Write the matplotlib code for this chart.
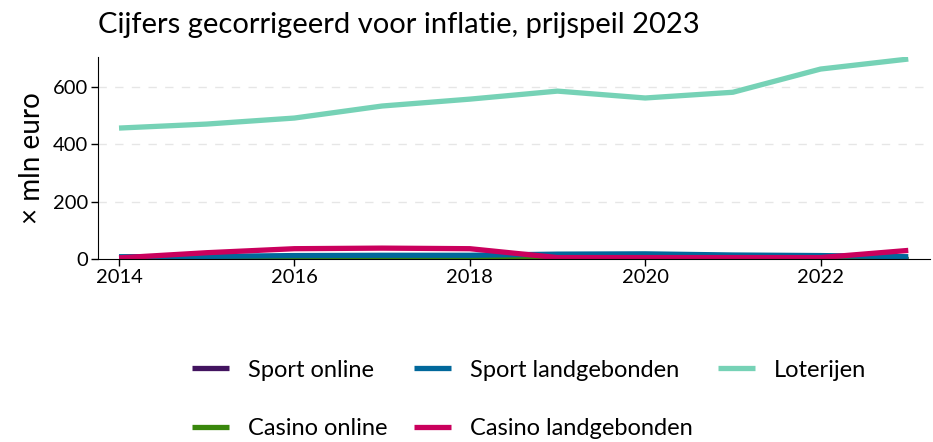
import matplotlib
matplotlib.use("Agg")
import matplotlib.pyplot as plt

years = [2014, 2015, 2016, 2017, 2018, 2019, 2020, 2021, 2022, 2023]
sport_online = [0, 0, 0, 0, 0, 0, 0, 0, 0, 0]
casino_online = [0, 0, 0, 0, 0, 0, 0, 0, 0, 0]
sport_land = [8, 9, 12, 13, 13, 17, 18, 14, 12, 8]
casino_land = [4, 22, 36, 38, 36, 5, 5, 5, 5, 30]
loterijen = [457, 471, 492, 534, 558, 586, 562, 582, 663, 698]

names = ["Sport online", "Casino online", "Sport landgebonden",
         "Casino landgebonden", "Loterijen"]
colors = ["#42145f", "#39870c", "#01689b", "#ca005d", "#76d2b6"]
series = [sport_online, casino_online, sport_land, casino_land, loterijen]

plt.rcParams["font.family"] = ["Lato", "DejaVu Sans"]

fig = plt.figure(figsize=(9.33, 4.42), dpi=100)
ax = fig.add_axes([0.105, 0.414, 0.892, 0.457])

for vals, c, n in zip(series, colors, names):
    ax.plot(years, vals, color=c, lw=3.8, label=n, solid_capstyle="butt")

ax.set_xlim(2013.76, 2023.25)
ax.set_ylim(0, 705)
ax.set_yticks([0, 200, 400, 600])
ax.set_xticks([2014, 2016, 2018, 2020, 2022])
for y in [200, 400, 600]:
    ax.axhline(y, color="#e6e6e6", lw=1, ls=(0, (6, 6)), zorder=0)
ax.spines["top"].set_visible(False)
ax.spines["right"].set_visible(False)
ax.tick_params(labelsize=14.5, length=5, width=1, pad=2)
ax.set_ylabel("× mln euro", fontsize=20, labelpad=6)
fig.text(0.105, 0.915, "Cijfers gecorrigeerd voor inflatie, prijspeil 2023",
         fontsize=21, va="bottom")

fig.legend(loc="lower left", bbox_to_anchor=(0.201, -0.005), ncol=3,
           frameon=False, fontsize=17, handlelength=1.57, handletextpad=0.8,
           columnspacing=1.1, labelspacing=1.6, borderpad=0.2,
           borderaxespad=0)
fig.savefig("out.png", dpi=100)
